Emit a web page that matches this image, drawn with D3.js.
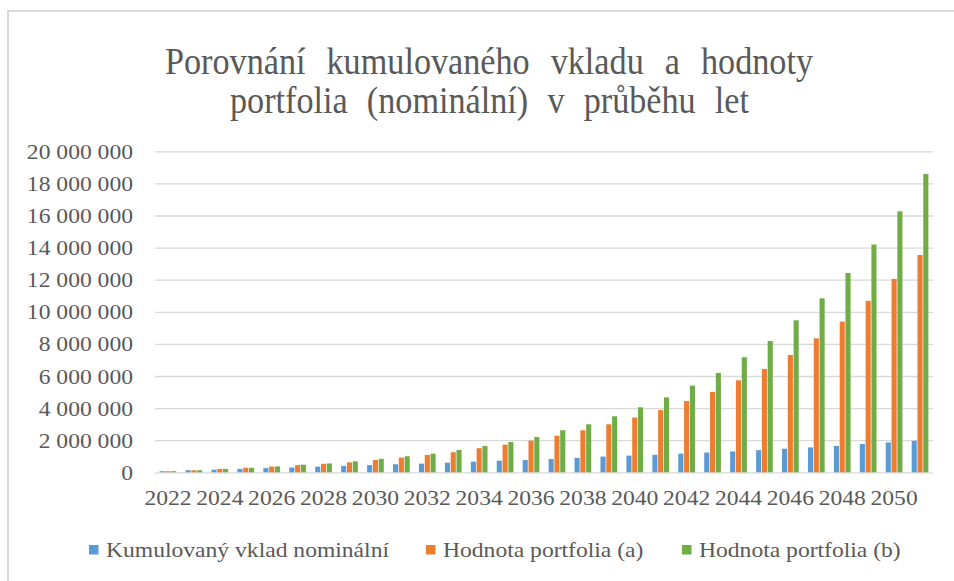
<!DOCTYPE html>
<html>
<head>
<meta charset="utf-8">
<script src="https://cdn.jsdelivr.net/npm/d3@7"></script>
<style>
html,body{margin:0;padding:0;background:#fff;}
svg{display:block;}
text{font-family:"Liberation Serif","Times New Roman",serif;fill:#595959;}
</style>
</head>
<body>
<svg id="chart" width="954" height="581"></svg>
<script>
const years = [2022,2023,2024,2025,2026,2027,2028,2029,2030,2031,2032,2033,2034,2035,2036,2037,2038,2039,2040,2041,2042,2043,2044,2045,2046,2047,2048,2049,2050,2051];
const seriesNames = ["Kumulovaný vklad nominální","Hodnota portfolia (a)","Hodnota portfolia (b)"];
const vklad = [70000,130000,160000,210000,260000,300000,350000,400000,450000,500000,540000,600000,660000,720000,770000,830000,900000,980000,1040000,1090000,1160000,1230000,1300000,1380000,1470000,1550000,1640000,1760000,1860000,1960000];
const portfolioA = [70000,130000,210000,280000,360000,450000,530000,620000,770000,920000,1080000,1250000,1500000,1720000,1970000,2280000,2620000,2990000,3410000,3880000,4440000,5010000,5730000,6440000,7310000,8350000,9390000,10680000,12050000,13540000];
const portfolioB = [70000,130000,210000,280000,370000,470000,550000,680000,840000,1000000,1160000,1390000,1640000,1890000,2200000,2620000,2990000,3490000,4050000,4670000,5400000,6190000,7170000,8180000,9470000,10840000,12420000,14190000,16260000,18590000];
const yTicks = [0,2000000,4000000,6000000,8000000,10000000,12000000,14000000,16000000,18000000,20000000];
const xTickYears = [2022,2024,2026,2028,2030,2032,2034,2036,2038,2040,2042,2044,2046,2048,2050];
const colors = ["#5B9BD5","#ED7D31","#70AD47"];
const titleLines = ["Porovnání kumulovaného vkladu a hodnoty","portfolia (nominální) v průběhu let"];

const svg = d3.select("#chart");
const plot = {left:155, right:933, top:151.3, bottom:472.3};
const SX = 1.18;
const FONT = "'Liberation Serif','Times New Roman',serif";

// frame
svg.append("path").attr("d","M8,581 V11 H954").attr("fill","none").attr("stroke","#d9d9d9").attr("stroke-width",2);

// title (slightly condensed glyphs, wider word gaps)
const tX = [165,230], tW = [648,519], tY = [74,113], TSX = 0.9;
titleLines.forEach((t,i)=>{
  const el = svg.append("text").attr("font-size",38).style("font-family",FONT)
    .attr("transform",`translate(${tX[i]},${tY[i]}) scale(${TSX},1)`).text(t);
  const w = el.node().getComputedTextLength();
  const n = (t.match(/ /g)||[]).length;
  const ws = Math.max(0,(tW[i]/TSX - w)/n);
  el.attr("word-spacing",ws);
});

const y = d3.scaleLinear().domain([0,20000000]).range([plot.bottom,plot.top]);
const x0 = d3.scaleBand().domain(years).range([plot.left,plot.right]).paddingInner(0.356).paddingOuter(0.178);
const x1 = d3.scaleBand().domain([0,1,2]).range([0,x0.bandwidth()]).paddingInner(0.12);

// gridlines + y labels
const yAxis = d3.axisLeft(y).tickValues(yTicks).tickSize(-(plot.right-plot.left)).tickPadding(0)
  .tickFormat(d=>d3.format(",")(d).replace(/,/g," "));
const gy = svg.append("g").attr("transform",`translate(${plot.left},0)`).call(yAxis);
gy.select(".domain").remove();
gy.selectAll(".tick line").attr("stroke","#d9d9d9").attr("stroke-width",1.3);
gy.selectAll(".tick text").attr("x",0).attr("dy",null).attr("y",0)
  .attr("transform",`translate(${133-plot.left},7) scale(${SX},1)`)
  .attr("font-size",20).attr("text-anchor","end").attr("fill","#595959")
  .style("font-family",FONT);

// bars
const data = years.map((yr,i)=>({year:yr, vals:[vklad[i],portfolioA[i],portfolioB[i]]}));
const groups = svg.append("g").selectAll("g").data(data).join("g")
  .attr("transform",d=>`translate(${x0(d.year)},0)`);
groups.selectAll("rect").data(d=>d.vals.map((v,k)=>({v,k}))).join("rect")
  .attr("x",d=>x1(d.k)).attr("width",x1.bandwidth())
  .attr("y",d=>y(d.v)).attr("height",d=>y(0)-y(d.v))
  .attr("fill",d=>colors[d.k]);

// x axis labels
const xAxis = d3.axisBottom(x0).tickValues(xTickYears).tickSize(0).tickPadding(0);
const gx = svg.append("g").attr("transform",`translate(0,${plot.bottom})`).call(xAxis);
gx.select(".domain").remove();
gx.selectAll(".tick text").attr("y",0).attr("dy",null)
  .attr("transform",`translate(0,33) scale(${SX},1)`)
  .attr("font-size",20).attr("fill","#595959")
  .style("font-family",FONT);

// legend
const legX = [89,426,682];
const leg = svg.append("g");
seriesNames.forEach((n,i)=>{
  leg.append("rect").attr("x",legX[i]).attr("y",545).attr("width",9.5).attr("height",9.5).attr("fill",colors[i]);
  leg.append("text").attr("transform",`translate(${legX[i]+17},557) scale(${SX},1)`)
    .attr("font-size",20).style("font-family",FONT).text(n);
});
</script>
</body>
</html>
